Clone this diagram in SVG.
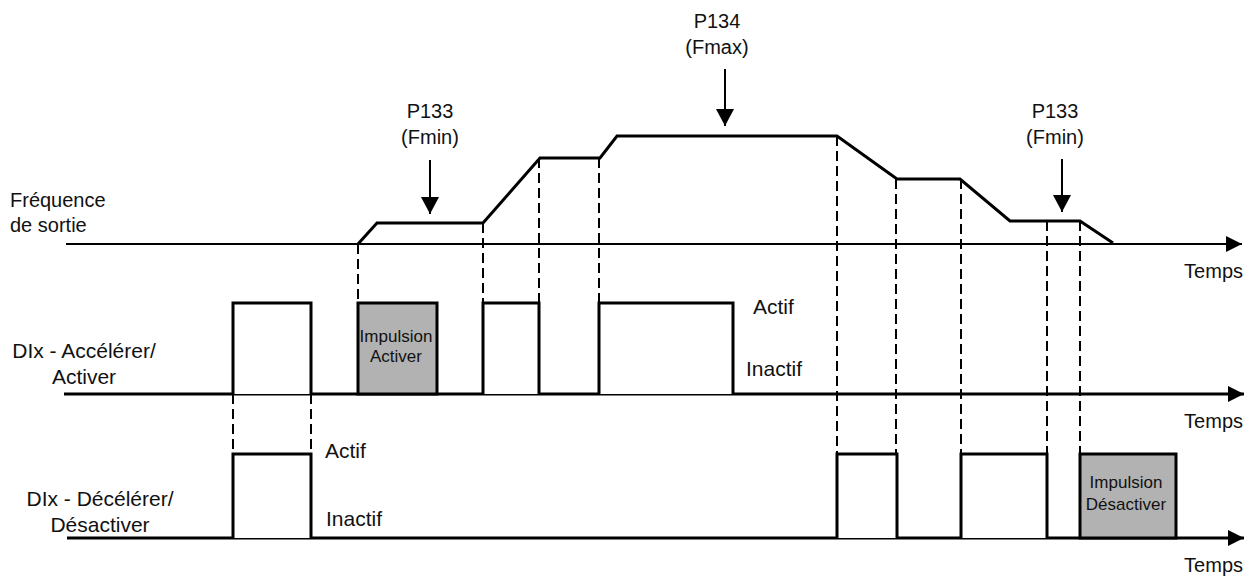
<svg xmlns="http://www.w3.org/2000/svg" width="1246" height="577" viewBox="0 0 1246 577">
  <defs>
    <style>
      text { font-family: "Liberation Sans", Arial, sans-serif; fill: #111; }
      .lbl { font-size: 20px; }
      .big { font-size: 21px; }
      .small { font-size: 17px; }
      .sig { fill: none; stroke: #000; stroke-width: 3; stroke-linejoin: miter; }
      .pulse { fill: #fff; stroke: #000; stroke-width: 3; }
      .grey { fill: #b2b2b2; stroke: #000; stroke-width: 3; }
      .dash { fill: none; stroke: #000; stroke-width: 2; stroke-dasharray: 10 5; }
      .axis { fill: none; stroke: #000; }
      .mk { fill: none; stroke: #000; stroke-width: 2; }
    </style>
    <marker id="axhead" viewBox="0 0 16 16" refX="16" refY="8" markerWidth="16" markerHeight="16" markerUnits="userSpaceOnUse" orient="auto">
      <path d="M0,0 L16,8 L0,16 Z" fill="#000"/>
    </marker>
    <marker id="dnhead" viewBox="0 0 18 17" refX="9" refY="17" markerWidth="18" markerHeight="17" markerUnits="userSpaceOnUse" orient="0">
      <path d="M0,0 L18,0 L9,17 Z" fill="#000"/>
    </marker>
  </defs>

  <g id="connectors">
    <!-- axes -->
    <line class="axis" x1="66" y1="244" x2="1242" y2="244" stroke-width="2" marker-end="url(#axhead)"/>
    <line class="axis" x1="64" y1="394" x2="1244" y2="394" stroke-width="3" marker-end="url(#axhead)"/>
    <line class="axis" x1="67" y1="538" x2="1244" y2="538" stroke-width="3" marker-end="url(#axhead)"/>
    <!-- dashed guides -->
    <line class="dash" x1="358" y1="244" x2="358" y2="303"/>
    <line class="dash" x1="483" y1="223" x2="483" y2="303"/>
    <line class="dash" x1="539" y1="158" x2="539" y2="303"/>
    <line class="dash" x1="599" y1="158" x2="599" y2="303"/>
    <line class="dash" x1="233" y1="394" x2="233" y2="454"/>
    <line class="dash" x1="311" y1="394" x2="311" y2="454"/>
    <line class="dash" x1="837" y1="136" x2="837" y2="454"/>
    <line class="dash" x1="896" y1="179" x2="896" y2="454"/>
    <line class="dash" x1="961" y1="179" x2="961" y2="454"/>
    <line class="dash" x1="1047" y1="221" x2="1047" y2="454"/>
    <line class="dash" x1="1080" y1="221" x2="1080" y2="454"/>
    <!-- parameter arrows -->
    <line class="mk" x1="430" y1="160" x2="430" y2="214" marker-end="url(#dnhead)"/>
    <line class="mk" x1="725" y1="69" x2="725" y2="126" marker-end="url(#dnhead)"/>
    <line class="mk" x1="1062" y1="159" x2="1062" y2="212" marker-end="url(#dnhead)"/>
  </g>

  <g id="frequency-signal">
    <polyline class="sig" points="358,244 377,223 483,223 540,158 600,158 617,136 837,136 897,179 960,179 1010,221 1080,221 1113,243"/>
    <text class="lbl" x="10" y="207">Fréquence</text>
    <text class="lbl" x="10" y="232">de sortie</text>
    <text class="lbl" x="1243" y="278" text-anchor="end">Temps</text>
  </g>

  <g id="p133-left">
    <text class="lbl" x="430" y="118" text-anchor="middle">P133</text>
    <text class="lbl" x="430" y="144" text-anchor="middle">(Fmin)</text>
  </g>
  <g id="p134">
    <text class="lbl" x="717" y="28" text-anchor="middle">P134</text>
    <text class="lbl" x="717" y="54" text-anchor="middle">(Fmax)</text>
  </g>
  <g id="p133-right">
    <text class="lbl" x="1055" y="118" text-anchor="middle">P133</text>
    <text class="lbl" x="1055" y="144" text-anchor="middle">(Fmin)</text>
  </g>

  <g id="dix-accelerer">
    <text class="big" x="84" y="358" text-anchor="middle">DIx - Accélérer/</text>
    <text class="big" x="84" y="384" text-anchor="middle">Activer</text>
    <polyline class="pulse" points="233,394 233,303 311,303 311,394"/>
    <rect class="grey" x="358" y="303" width="79" height="91"/>
    <text class="small" x="396" y="342" text-anchor="middle">Impulsion</text>
    <text class="small" x="396" y="362" text-anchor="middle">Activer</text>
    <polyline class="pulse" points="483,394 483,303 539,303 539,394"/>
    <polyline class="pulse" points="599,394 599,303 733,303 733,394"/>
    <text class="big" x="753" y="314">Actif</text>
    <text class="big" x="746" y="376">Inactif</text>
    <text class="lbl" x="1243" y="428" text-anchor="end">Temps</text>
  </g>

  <g id="dix-decelerer">
    <text class="big" x="100" y="506" text-anchor="middle">DIx - Décélérer/</text>
    <text class="big" x="100" y="532" text-anchor="middle">Désactiver</text>
    <polyline class="pulse" points="233,538 233,454 311,454 311,538"/>
    <text class="big" x="325" y="458">Actif</text>
    <text class="big" x="326" y="526">Inactif</text>
    <polyline class="pulse" points="837,538 837,454 897,454 897,538"/>
    <polyline class="pulse" points="961,538 961,454 1047,454 1047,538"/>
    <rect class="grey" x="1080" y="454" width="96" height="84"/>
    <text class="small" x="1126" y="488" text-anchor="middle">Impulsion</text>
    <text class="small" x="1126" y="510" text-anchor="middle">Désactiver</text>
    <text class="lbl" x="1243" y="572" text-anchor="end">Temps</text>
  </g>
</svg>
